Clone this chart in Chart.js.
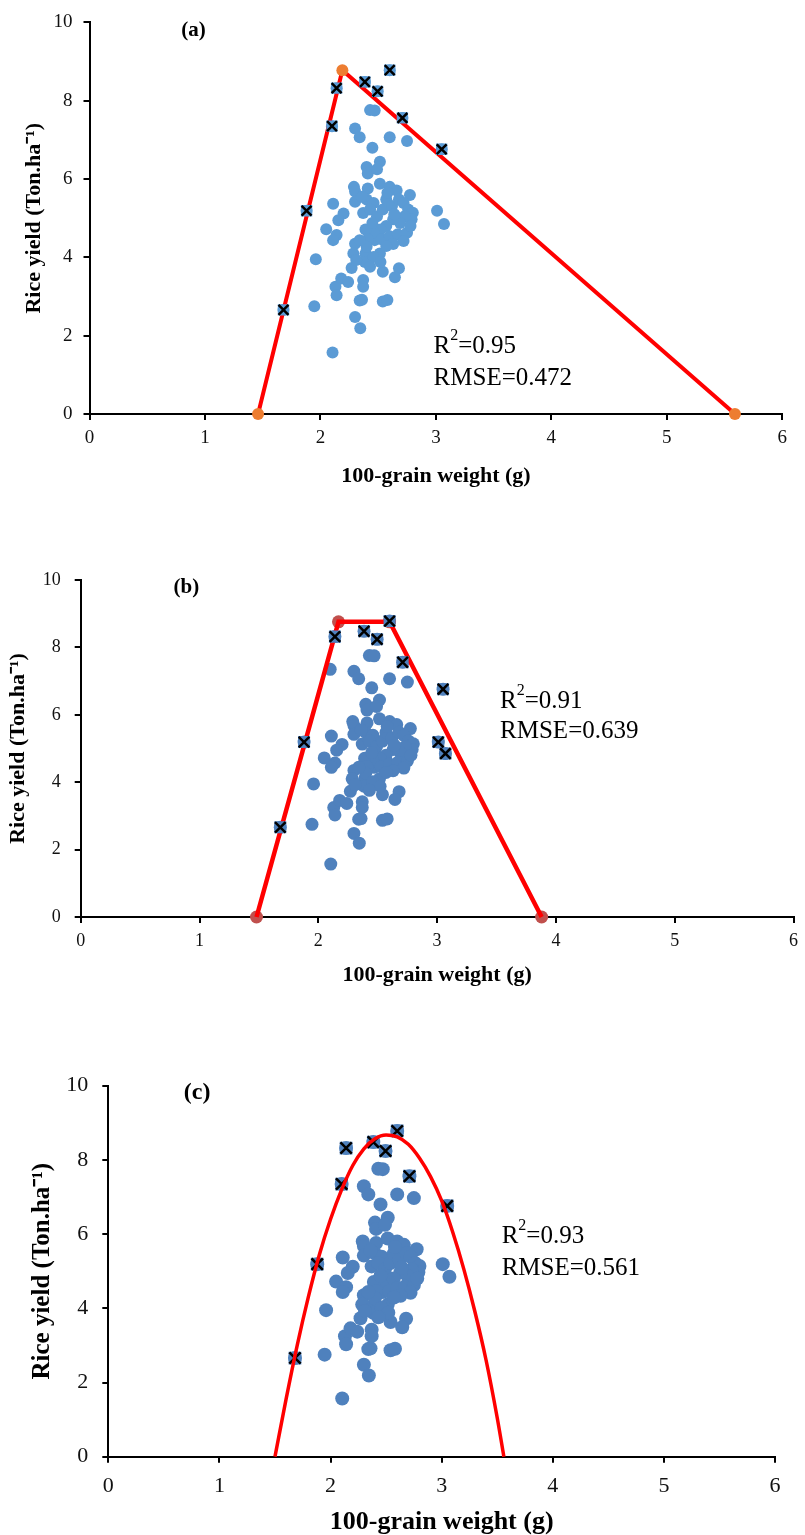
<!DOCTYPE html>
<html>
<head>
<meta charset="utf-8">
<script src="https://cdn.jsdelivr.net/npm/chart.js@4.4.0/dist/chart.umd.min.js"></script>
<style>
    body { margin: 0; background: #ffffff; }
    #wrap { position: relative; width: 805px; height: 1535px; }
    canvas { position: absolute; left: 0; }
</style>
</head>
<body>
<div id="wrap">
    <canvas id="chartA" width="805" height="500" style="top:0px"></canvas>
    <canvas id="chartB" width="805" height="450" style="top:540px"></canvas>
    <canvas id="chartC" width="805" height="485" style="top:1050px"></canvas>
</div>
<script>
// samples: 100-grain weight (g) and rice yield (ton/ha)
// first 11 samples are the ones marked with an X in some panel
var grainWeight = [
    1.68, 1.88, 2.10, 2.14, 2.385, 2.495, 2.60, 2.71, 3.05, 3.01, 3.07,
    2.43, 2.47, 2.30, 2.34, 2.60, 2.75, 2.45, 2.515, 2.40, 2.41, 2.49,
    2.29, 2.30, 2.30, 2.41, 2.515, 2.60, 2.66, 2.775, 2.11, 2.20, 2.155,
    2.05, 2.14, 2.11, 1.96, 1.947, 2.105, 2.30, 2.345, 2.34, 2.36, 2.54,
    2.58, 2.13, 2.14, 2.18, 2.24, 2.27, 2.37, 2.37, 2.54, 2.68, 2.645,
    2.30, 2.285, 2.39, 2.385, 2.47, 2.515, 2.40, 2.46, 2.37, 2.43, 2.49,
    2.54, 2.57, 2.62, 2.68, 2.72, 2.76, 2.80, 2.79, 2.73, 2.69, 2.63,
    2.57, 2.52, 2.46, 2.39, 2.41, 2.53, 2.60, 2.67, 2.75, 2.78, 2.72,
    2.63, 2.57, 2.40, 2.34, 2.46, 2.52, 2.31, 2.43, 2.36, 2.64, 2.58, 2.45
];
var riceYield = [
    2.66, 5.19, 7.35, 8.32, 8.48, 8.24, 8.78, 7.56, 6.76, 5.19, 4.85,
    7.76, 7.75, 7.29, 7.07, 7.07, 6.97, 6.80, 6.44, 6.31, 6.14, 6.25,
    5.80, 5.68, 5.42, 5.76, 5.88, 5.80, 5.71, 5.59, 5.37, 5.12, 4.95,
    4.72, 4.57, 4.44, 3.95, 2.75, 1.57, 2.48, 2.19, 2.90, 2.92, 2.87,
    2.91, 3.25, 3.03, 3.46, 3.37, 3.73, 3.42, 3.25, 3.63, 3.72, 3.49,
    4.35, 4.10, 4.10, 3.88, 4.44, 4.10, 5.48, 5.39, 5.13, 5.22, 5.05,
    5.22, 5.48, 5.31, 5.48, 5.39, 5.22, 5.14, 4.97, 5.05, 4.88, 4.97,
    4.80, 4.71, 4.63, 4.71, 4.46, 4.46, 4.54, 4.59, 4.63, 4.80, 4.42,
    4.34, 4.29, 4.27, 4.44, 4.01, 3.88, 3.93, 3.76, 5.55, 5.10, 5.65, 4.88
];

// which samples carry the X marker in each panel
var markedA = [0, 1, 2, 3, 4, 5, 6, 7, 8];
var markedB = [0, 1, 3, 4, 5, 6, 7, 8, 9, 10];
var markedC = [0, 1, 2, 3, 4, 5, 6, 7, 8];

// boundary lines
var boundaryAx = [1.46, 2.19, 5.59];
var boundaryAy = [0, 8.78, 0];
var boundaryBx = [1.48, 2.17, 2.60, 3.88];
var boundaryBy = [0, 8.76, 8.76, 0];
var boundaryCx = [1.50, 1.60, 1.70, 1.80, 1.90, 2.00, 2.10, 2.20, 2.30, 2.40, 2.50,
                  2.60, 2.70, 2.80, 2.90, 3.00, 3.10, 3.20, 3.30, 3.40, 3.50, 3.56];
var boundaryCy = [0, 1.55, 3.00, 4.30, 5.45, 6.40, 7.20, 7.85, 8.30, 8.57, 8.67,
                  8.62, 8.42, 8.05, 7.55, 6.90, 6.05, 5.05, 3.90, 2.60, 1.05, 0];

var xTicks = [0, 1, 2, 3, 4, 5, 6];
var yTicks = [0, 2, 4, 6, 8, 10];
var r2Values = ['0.95', '0.91', '0.93'];
var rmseValues = ['0.472', '0.639', '0.561'];
var panelNames = ['(a)', '(b)', '(c)'];

var serif = "'Liberation Serif', 'Times New Roman', serif";

function toPoints(xs, ys) {
    var pts = [];
    for (var i = 0; i < xs.length; i++) pts.push({ x: xs[i], y: ys[i] });
    return pts;
}

function pick(idx) {
    return idx.map(function (i) { return { x: grainWeight[i], y: riceYield[i] }; });
}

// panel letter and the R2 / RMSE text
var panelText = {
    id: 'panelText',
    afterDraw: function (chart, args, o) {
        var ctx = chart.ctx, xs = chart.scales.x, ys = chart.scales.y;
        ctx.save();
        ctx.fillStyle = '#000';
        ctx.textBaseline = 'alphabetic';
        ctx.font = 'bold ' + o.labelSize + 'px ' + serif;
        ctx.textAlign = 'center';
        ctx.fillText(o.label, xs.getPixelForValue(o.labelAt[0]), ys.getPixelForValue(o.labelAt[1]));

        ctx.textAlign = 'left';
        var x0 = xs.getPixelForValue(o.statsAt[0]);
        var yR = ys.getPixelForValue(o.statsAt[1]);
        var yE = ys.getPixelForValue(o.statsAt[2]);
        ctx.font = o.statsSize + 'px ' + serif;
        ctx.fillText('R', x0, yR);
        var w = ctx.measureText('R').width;
        ctx.font = o.supSize + 'px ' + serif;
        ctx.fillText('2', x0 + w, yR - o.supRise);
        w += ctx.measureText('2').width;
        ctx.font = o.statsSize + 'px ' + serif;
        ctx.fillText('=' + o.r2, x0 + w, yR);
        ctx.fillText('RMSE=' + o.rmse, x0, yE);
        ctx.restore();
    }
};

function makePanel(id, p) {
    var datasets = [];

    // boundary line
    datasets.push({
        data: toPoints(p.lineX, p.lineY),
        showLine: true,
        borderColor: '#FF0000',
        borderWidth: p.lineWidth,
        pointRadius: 0,
        cubicInterpolationMode: p.smooth ? 'monotone' : 'default',
        clip: false,
        order: p.lineOnTop ? 0 : 3
    });

    // all samples
    datasets.push({
        data: toPoints(grainWeight, riceYield),
        pointStyle: 'circle',
        pointRadius: p.dotRadius,
        backgroundColor: p.dotColor,
        borderColor: p.dotColor,
        borderWidth: 0,
        order: 5
    });

    // X markers: blue square with black cross
    datasets.push({
        data: pick(p.marked),
        pointStyle: 'rect',
        pointRadius: p.dotRadius + 2,
        backgroundColor: p.dotColor,
        borderColor: p.dotColor,
        borderWidth: 0,
        order: 2
    });
    datasets.push({
        data: pick(p.marked),
        pointStyle: 'crossRot',
        pointRadius: p.dotRadius + 1,
        borderColor: '#000',
        borderWidth: 2.5,
        order: 1
    });

    // line vertices
    if (p.vertexColor) {
        datasets.push({
            data: toPoints(p.lineX, p.lineY),
            pointStyle: 'circle',
            pointRadius: p.dotRadius,
            backgroundColor: p.vertexColor,
            borderWidth: 0,
            clip: false,
            order: p.vertexOnTop ? -1 : 4
        });
    }

    return new Chart(document.getElementById(id), {
        type: 'scatter',
        data: { datasets: datasets },
        plugins: [panelText],
        options: {
            responsive: false,
            animation: false,
            events: [],
            layout: { padding: { top: p.top, right: p.right, left: 0, bottom: 0 } },
            plugins: {
                legend: { display: false },
                tooltip: { enabled: false },
                panelText: p.text
            },
            scales: {
                x: {
                    type: 'linear',
                    min: 0,
                    max: 6,
                    afterFit: function (s) { s.height = p.xHeight; },
                    afterBuildTicks: function (s) { s.ticks = xTicks.map(function (v) { return { value: v }; }); },
                    border: { display: true, color: '#000', width: 2 },
                    grid: { drawOnChartArea: false, drawTicks: true, tickLength: 6, color: '#000', lineWidth: 2 },
                    ticks: {
                        color: '#111',
                        padding: p.xTickPad,
                        maxRotation: 0,
                        autoSkip: false,
                        font: { family: serif, size: p.tickSize }
                    },
                    title: {
                        display: true,
                        text: '100-grain weight (g)',
                        color: '#000',
                        padding: { top: 0, bottom: p.xTitlePad },
                        font: { family: serif, size: p.xTitleSize, weight: 'bold', lineHeight: 1 }
                    }
                },
                y: {
                    type: 'linear',
                    min: 0,
                    max: 10,
                    afterFit: function (s) { s.width = p.yWidth; },
                    afterBuildTicks: function (s) { s.ticks = yTicks.map(function (v) { return { value: v }; }); },
                    border: { display: true, color: '#000', width: 2 },
                    grid: { drawOnChartArea: false, drawTicks: true, tickLength: 6, color: '#000', lineWidth: 2 },
                    ticks: {
                        color: '#111',
                        padding: p.yTickPad,
                        autoSkip: false,
                        font: { family: serif, size: p.tickSize }
                    },
                    title: {
                        display: true,
                        text: 'Rice yield (Ton.ha\u207B\u00B9)',
                        color: '#000',
                        padding: { top: p.yTitlePad, bottom: 0 },
                        font: { family: serif, size: p.yTitleSize, weight: 'bold', lineHeight: 1 }
                    }
                }
            }
        }
    });
}

// (a) two straight segments
makePanel('chartA', {
    top: 22, right: 22.7, yWidth: 89.5, xHeight: 86,
    tickSize: 19, xTickPad: 7, yTickPad: 11,
    xTitleSize: 22, xTitlePad: 13, yTitleSize: 22, yTitlePad: 23,
    dotColor: '#5B9BD5', dotRadius: 6,
    lineX: boundaryAx, lineY: boundaryAy, lineWidth: 4,
    vertexColor: '#ED7D31', vertexOnTop: true,
    marked: markedA,
    text: { label: panelNames[0], labelAt: [0.9, 9.64], labelSize: 21,
            statsAt: [2.98, 1.56, 0.74], statsSize: 25, supSize: 16, supRise: 13,
            r2: r2Values[0], rmse: rmseValues[0] }
});

// (b) trapezoid
makePanel('chartB', {
    top: 40, right: 8.3, yWidth: 80.7, xHeight: 73,
    tickSize: 18, xTickPad: 7, yTickPad: 14,
    xTitleSize: 22, xTitlePad: 4, yTitleSize: 22, yTitlePad: 7,
    dotColor: '#4F81BD', dotRadius: 6.5,
    lineX: boundaryBx, lineY: boundaryBy, lineWidth: 4.5,
    vertexColor: '#C0504D', vertexOnTop: false,
    marked: markedB,
    text: { label: panelNames[1], labelAt: [0.89, 9.61], labelSize: 21,
            statsAt: [3.53, 6.2, 5.31], statsSize: 25, supSize: 16, supRise: 13,
            r2: r2Values[1], rmse: rmseValues[1] }
});

// (c) fitted parabola
makePanel('chartC', {
    top: 35.7, right: 30, yWidth: 108.3, xHeight: 78.3,
    tickSize: 22, xTickPad: 10, yTickPad: 14,
    xTitleSize: 26, xTitlePad: 0, yTitleSize: 25, yTitlePad: 30,
    dotColor: '#4F81BD', dotRadius: 7,
    lineX: boundaryCx, lineY: boundaryCy, lineWidth: 3.5, smooth: true, lineOnTop: true,
    marked: markedC,
    text: { label: panelNames[2], labelAt: [0.8, 9.64], labelSize: 24,
            statsAt: [3.54, 5.76, 4.9], statsSize: 25, supSize: 16, supRise: 13,
            r2: r2Values[2], rmse: rmseValues[2] }
});
</script>
</body>
</html>
